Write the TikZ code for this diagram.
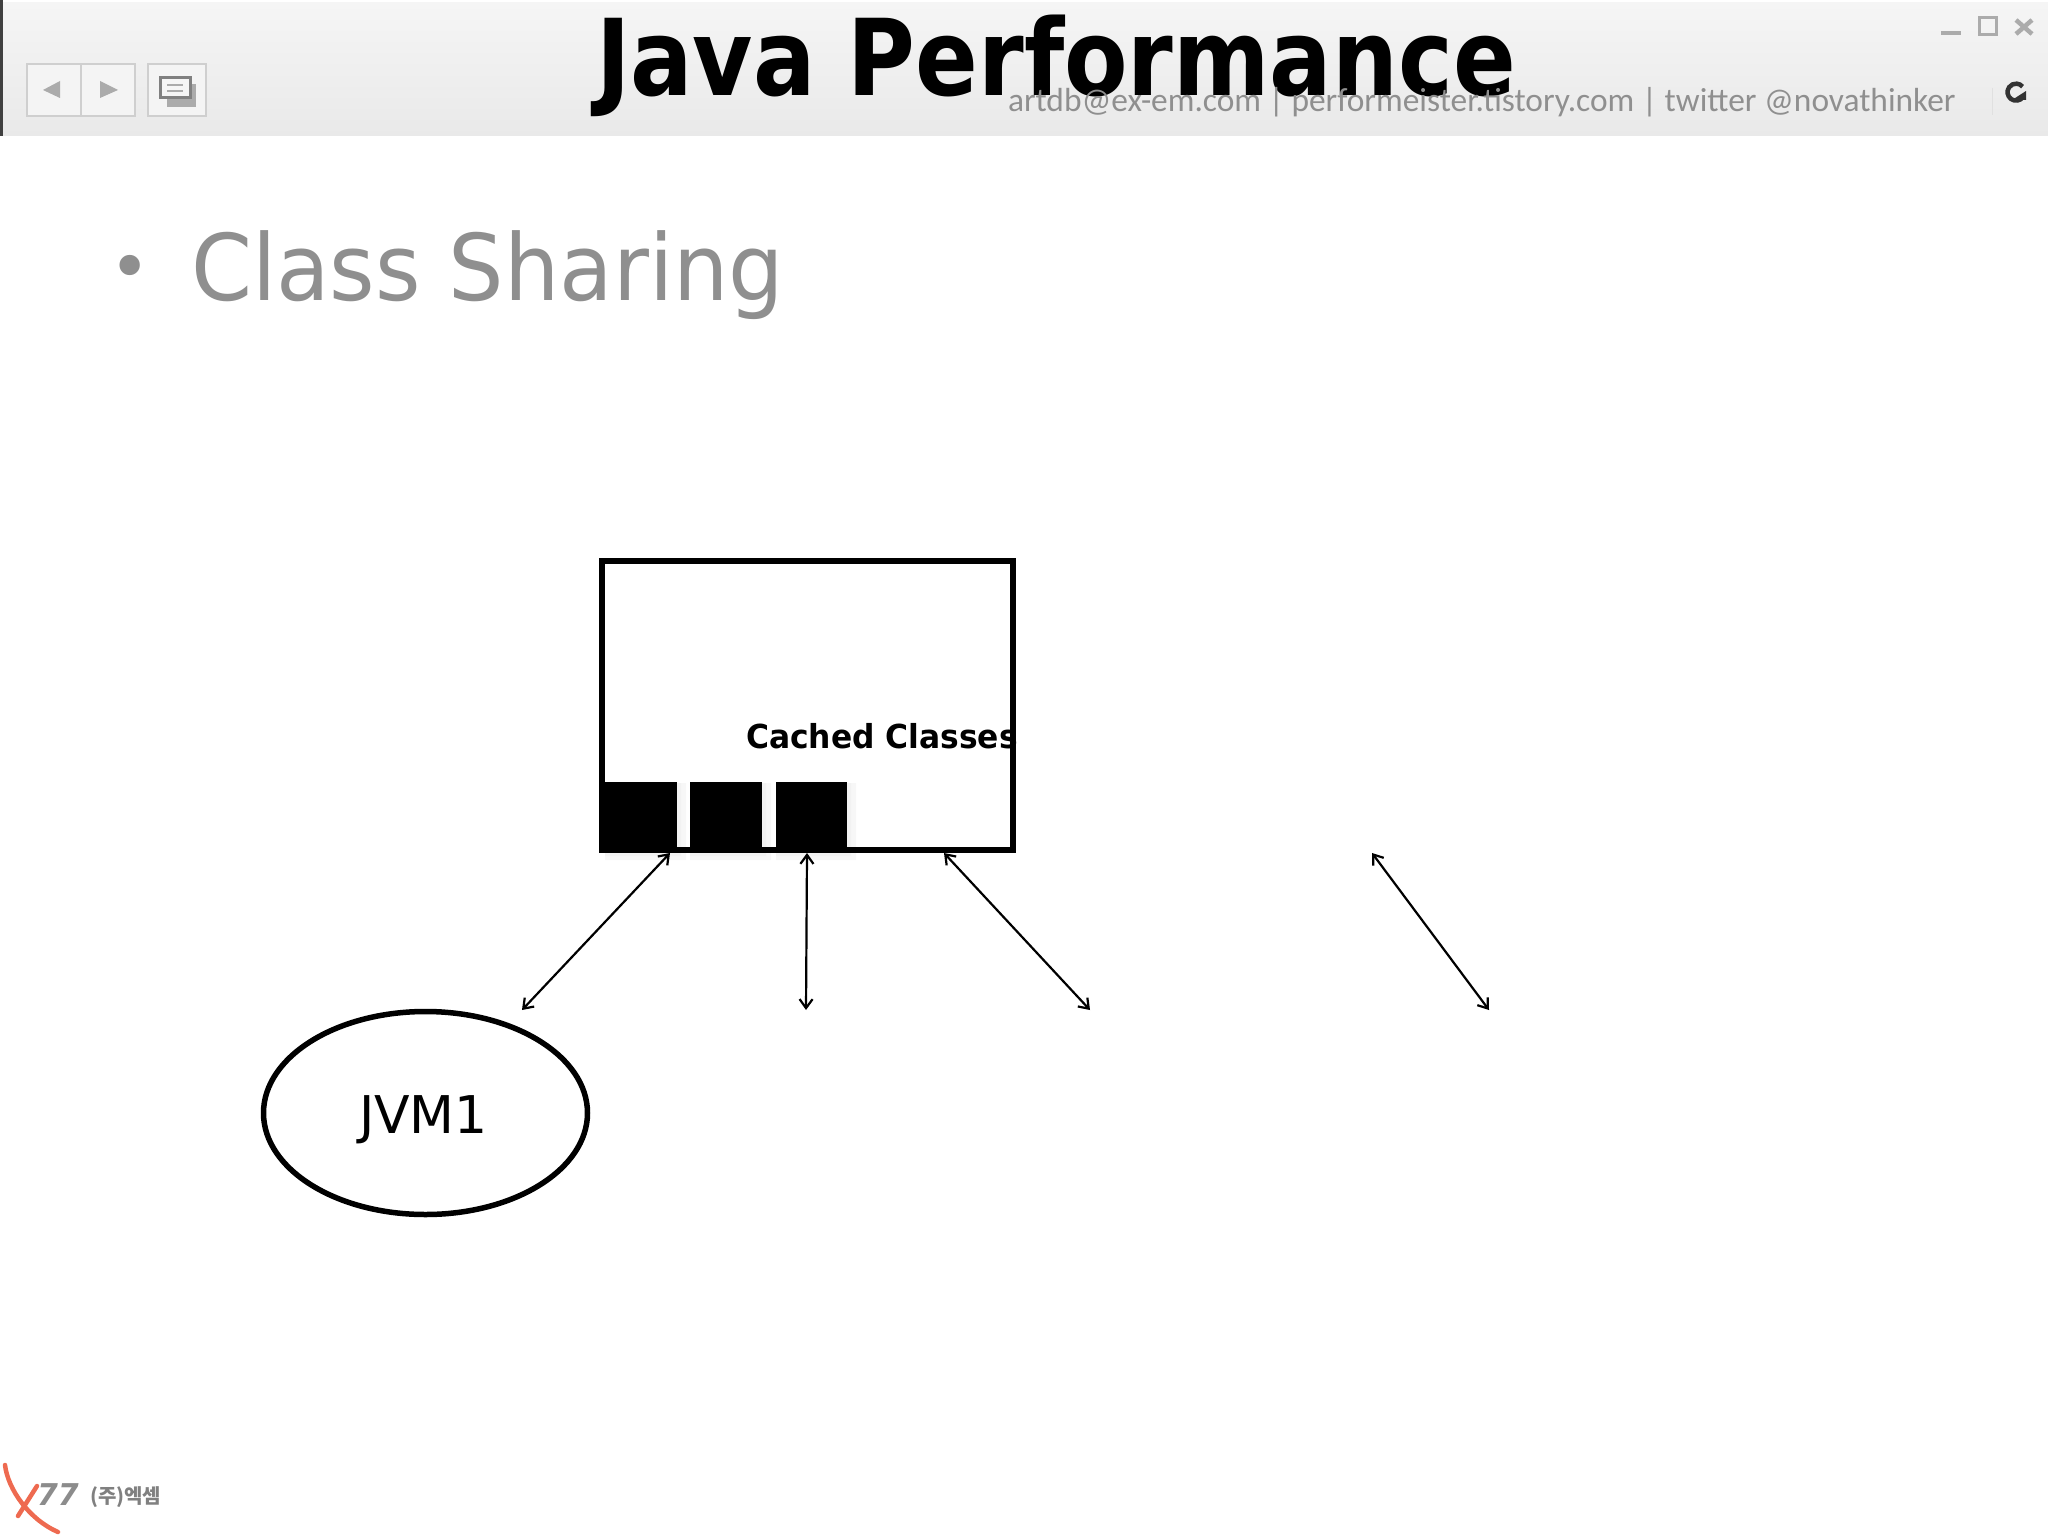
\documentclass[tikz,border=0pt]{standalone}
\usepackage{graphicx}
\usepackage{fontspec}
\setmainfont{DejaVu Sans}
\newfontfamily\footfont{Carlito}
\newfontfamily\korfont{Noto Sans CJK KR}
\usetikzlibrary{arrows.meta,shapes.geometric}
\definecolor{barlight}{HTML}{F5F5F5}
\definecolor{bardark}{HTML}{E9E9E9}
\definecolor{btngray}{HTML}{CFCFCF}
\definecolor{icongray}{HTML}{ABABAB}
\definecolor{slidegray}{HTML}{8F8F8F}
\definecolor{logored}{HTML}{EE6A50}
\tikzset{
  txt/.style={inner sep=0, outer sep=0, anchor=base west},
  btn/.style={draw=btngray, line width=2pt, fill=barlight!90!bardark, inner sep=0, outer sep=0, minimum height=52pt},
  tip/.style={fill=icongray, draw=none},
  square/.style={fill=black, inner sep=0, outer sep=0, minimum width=72pt, minimum height=68pt, anchor=south west},
  link/.style={line width=2.2pt, {Straight Barb[length=9pt,width=13pt]}-{Straight Barb[length=9pt,width=13pt]}},
}
\begin{document}
\begin{tikzpicture}[x=1pt, y=-1pt]
    \useasboundingbox (0,0) rectangle (2048,1536);
    % title bar
    \shade[top color=barlight, bottom color=bardark] (0,3) rectangle (2048,136);
    \fill[black!75] (0,0) rectangle (3,136);
    \node (backbtn) [btn, minimum width=55pt] at (54,90) {};
    \node (nextbtn) [btn, minimum width=54pt] at (108,90) {};
    \node (showbtn) [btn, minimum width=58pt] at (177,90) {};
    \fill[tip] (43,90) -- (60,81) -- (60,98) -- cycle;
    \fill[tip] (118,90) -- (100,81) -- (100,98) -- cycle;
    \fill[icongray] (167,84) rectangle (196,107);
    \draw[line width=3pt, draw=black!50, fill=barlight] (160,78) rectangle (190,98);
    \draw[line width=1.5pt, draw=icongray] (167,85) -- (183,85) (167,91) -- (183,91);
    \draw[line width=4pt, draw=icongray] (1941,33) -- (1961,33);
    \draw[line width=3pt, draw=icongray] (1979,18) rectangle (1996,35);
    \draw[line width=4.5pt, draw=icongray] (2016,20) -- (2032,34) (2032,20) -- (2016,34);
    \draw[line width=1pt, draw=black!12] (1992,88) -- (1992,115);
    \draw[line width=4.5pt, draw=black!80] (2023,97) arc[start angle=-35, end angle=-320, radius=8.5pt];
    \fill[black!80] (2012,100) -- (2026,100) -- (2026,91) -- cycle;
    % texts of the slide
    \node (title) [txt, font=\bfseries\fontsize{106}{106}\selectfont, text=black] at (596,96) {\scalebox{0.873}[1]{Java Performance}};
    \node (contact) [txt, font=\footfont\fontsize{33.4}{33.4}\selectfont, text=slidegray] at (1008,112) {artdb@ex-em.com | performeister.tistory.com | twitter @novathinker};
    \node (bullet) [txt, font=\fontsize{70}{70}\selectfont, text=slidegray] at (109,291) {•};
    \node (topic) [txt, font=\fontsize{92}{92}\selectfont, text=slidegray] at (191,300) {\scalebox{0.95}[1]{Class Sharing}};
    % cache box
    \node (classes) [txt, font=\bfseries\fontsize{33}{33}\selectfont] at (746,748) {\scalebox{0.95}[1]{Cached Classes}};
    \fill[black!3] (605,783) rectangle (686,860) (690,783) rectangle (771,860) (776,783) rectangle (856,860);
    \fill[black!5] (605,783) rectangle (681,856) (690,783) rectangle (766,856) (776,783) rectangle (851,856);
    \node (cache) [draw, line width=5.5pt, inner sep=0, outer sep=0, minimum width=411pt, minimum height=289pt] at (807.5,705.5) {};
    \node (c1) [square] at (605,850) {};
    \node (c2) [square] at (690,850) {};
    \node (c3) [square, minimum width=71pt] at (776,850) {};
    \node (jvm1) [draw, ellipse, line width=5.5pt, inner sep=0, minimum width=324pt, minimum height=203pt] at (425.5,1113) {};
    \node (jvm1text) [txt, font=\fontsize{52}{52}\selectfont] at (359,1133) {JVM1};
    % arrows
    \coordinate (a1) at (670,853);
    \coordinate (b1) at (522,1010);
    \coordinate (a2) at (807,853);
    \coordinate (b2) at (806,1010);
    \coordinate (a3) at (944,853);
    \coordinate (b3) at (1090,1010);
    \coordinate (a4) at (1372,853);
    \coordinate (b4) at (1489,1010);
    \draw[link] (a1) -- (b1);
    \draw[link] (a2) -- (b2);
    \draw[link] (a3) -- (b3);
    \draw[link] (a4) -- (b4);
    % logo
    \draw[logored, line width=4.5pt, line cap=round] (5,1465) .. controls (8,1490) and (30,1520) .. (58,1532);
    \draw[logored, line width=4.5pt, line cap=round] (18,1516) -- (37,1486);
    \node (logonum) [txt, font=\bfseries\itshape\fontsize{30}{30}\selectfont, text=black!45] at (37,1505) {77};
    \node (logoname) [txt, font=\korfont\bfseries\fontsize{20}{20}\selectfont, text=black!50] at (90,1503) {(주)엑셈};
\end{tikzpicture}
\end{document}
